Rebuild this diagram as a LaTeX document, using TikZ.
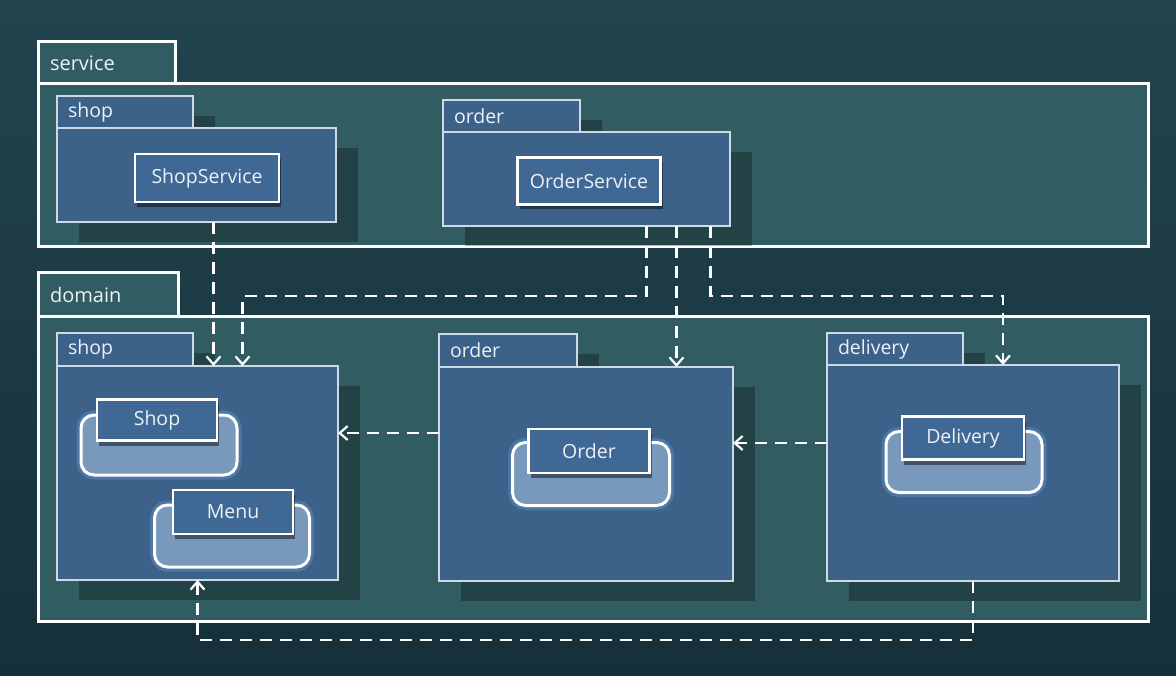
\documentclass[tikz,border=0pt]{standalone}
\usepackage{fontspec}
\setmainfont{Open Sans}
\usepackage{tikz}
\usetikzlibrary{positioning, arrows.meta, shadows}
\definecolor{fondo}{RGB}{34, 68, 78}
\definecolor{fondoBajo}{RGB}{22, 48, 58}
\definecolor{marco}{RGB}{48, 92, 98}
\definecolor{azul}{RGB}{60, 98, 138}
\definecolor{azulClase}{RGB}{64, 104, 148}
\definecolor{borde}{RGB}{205, 218, 228}
\definecolor{celeste}{RGB}{120, 152, 188}
\definecolor{brillo}{RGB}{110, 160, 215}
\definecolor{letra}{RGB}{236, 241, 246}
\tikzset{
    marcoTab/.style={draw=white, line width=3pt, fill=marco, text=letra, anchor=north west, align=left, inner xsep=12pt, inner ysep=0pt, outer sep=0pt, font=\fontsize{20}{24}\selectfont},
    marcoBody/.style={draw=white, line width=3pt, fill=marco, anchor=north west, inner sep=0pt, outer sep=0pt},
    pkgTab/.style={draw=borde, line width=2.2pt, fill=azul, text=letra, anchor=north west, align=left, inner xsep=11pt, inner ysep=0pt, outer sep=0pt, font=\fontsize{19.5}{23}\selectfont, drop shadow={shadow xshift=22pt, shadow yshift=-20pt, opacity=.28, fill=black}},
    pkgBody/.style={draw=borde, line width=2.2pt, fill=azul, anchor=north west, inner sep=0pt, outer sep=0pt, drop shadow={shadow xshift=22pt, shadow yshift=-20pt, opacity=.28, fill=black}},
    clase/.style={draw=white, line width=2.5pt, fill=azulClase, text=letra, inner sep=0pt, font=\fontsize{19.5}{23}\selectfont, drop shadow={shadow xshift=2pt, shadow yshift=-5pt, opacity=.45, fill=black}},
    soporte/.style={draw=white, line width=3pt, fill=celeste, rounded corners=13pt, inner sep=0pt, preaction={draw=brillo, line width=9pt, opacity=.35}},
    dep/.style={draw=white, line width=2.8pt, dash pattern=on 12pt off 8pt, -{Straight Barb[length=8pt, width=14pt, line width=2.2pt]}},
}
\begin{document}
\begin{tikzpicture}[x=1pt, y=-1pt]
    \fill[top color=fondo, bottom color=fondoBajo] (0,0) rectangle (1176,676);
    \useasboundingbox (0,0) rectangle (1176,676);

    % service
    \node[marcoTab, text width=113pt, minimum height=42pt] (sv) at (38,42) {service};
    \node[marcoBody, minimum width=1110pt, minimum height=163pt] (svB) at (sv.south west) {};

    \node[pkgTab, text width=114pt, minimum height=32pt] (svShop) at (57,96) {shop};
    \node[pkgBody, minimum width=279pt, minimum height=94pt] (svShopB) at (svShop.south west) {};
    \node[clase, minimum width=144pt, minimum height=48pt] (shopSrv) at (207,178) {ShopService};

    \node[pkgTab, text width=115pt, minimum height=32pt] (svOrder) at (443,100) {order};
    \node[pkgBody, minimum width=287pt, minimum height=94pt] (svOrderB) at (svOrder.south west) {};
    \node[clase, minimum width=143pt, minimum height=47pt] (orderSrv) at (589,181) {OrderService};

    % domain
    \node[marcoTab, text width=116pt, minimum height=44pt] (dm) at (38,273) {domain};
    \node[marcoBody, minimum width=1110pt, minimum height=304pt] (dmB) at (dm.south west) {};

    \node[pkgTab, text width=114pt, minimum height=33pt] (dmShop) at (57,333) {shop};
    \node[pkgBody, minimum width=281pt, minimum height=214pt] (dmShopB) at (dmShop.south west) {};
    \node[soporte, minimum width=156pt, minimum height=60pt] (shopS) at (159,445) {};
    \node[clase, minimum width=120pt, minimum height=41pt] (shop) at (157,420) {Shop};
    \node[soporte, minimum width=155pt, minimum height=62pt] (menuS) at (232,536) {};
    \node[clase, minimum width=120pt, minimum height=44pt] (menu) at (233,512) {Menu};

    \node[pkgTab, text width=116pt, minimum height=33pt] (dmOrder) at (439,334) {order};
    \node[pkgBody, minimum width=294pt, minimum height=214pt] (dmOrderB) at (dmOrder.south west) {};
    \node[soporte, minimum width=157pt, minimum height=63pt] (orderS) at (591,474) {};
    \node[clase, minimum width=121pt, minimum height=44pt] (order) at (589,451) {Order};

    \node[pkgTab, text width=114pt, minimum height=32pt] (dmDel) at (827,333) {delivery};
    \node[pkgBody, minimum width=292pt, minimum height=216pt] (dmDelB) at (dmDel.south west) {};
    \node[soporte, minimum width=156pt, minimum height=61pt] (delS) at (964,462) {};
    \node[clase, minimum width=122pt, minimum height=43pt] (del) at (963,438) {Delivery};

    % dependencias
    \coordinate (bus) at (0,296);
    \coordinate (busB) at (0,640);
    \draw[dep] ([xshift=17pt]svShopB.south) -- ([xshift=17pt]svShopB.south |- dmShopB.north);
    \draw[dep] ([xshift=60pt]svOrderB.south) |- ([xshift=45pt]dmShopB.north |- bus) -- ([xshift=45pt]dmShopB.north);
    \draw[dep] ([xshift=90pt]svOrderB.south) -- ([xshift=90pt]svOrderB.south |- dmOrderB.north);
    \draw[dep] ([xshift=124pt]svOrderB.south) |- ([xshift=30pt]dmDelB.north |- bus) -- ([xshift=30pt]dmDelB.north);
    \draw[dep] ([yshift=41pt]dmOrderB.west) -- ([yshift=41pt]dmOrderB.west -| dmShopB.east);
    \draw[dep] ([yshift=30pt]dmDelB.west) -- ([yshift=30pt]dmDelB.west -| dmOrderB.east);
    \draw[dep] (dmDelB.south) -- (dmDelB.south |- busB) -| (dmShopB.south);
\end{tikzpicture}
\end{document}
